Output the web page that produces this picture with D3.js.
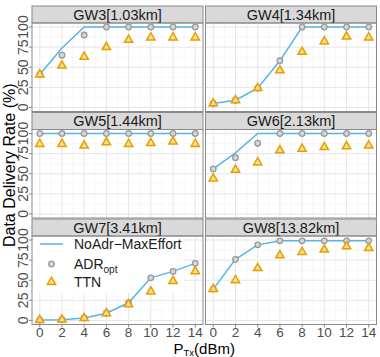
<!DOCTYPE html>
<html>
<head>
<meta charset="utf-8">
<script src="https://cdn.jsdelivr.net/npm/d3@7"></script>
<style>
  body { margin: 0; background: #fff; }
  svg { font-family: "Liberation Sans", Arial, sans-serif; }
</style>
</head>
<body>
<div id="chart"></div>
<script>
// tx power levels (x axis)
const txPower = [0, 2, 4, 6, 8, 10, 12, 14];
const gateways = ["GW3[1.03km]", "GW4[1.34km]", "GW5[1.44km]", "GW6[2.13km]", "GW7[3.41km]", "GW8[13.82km]"];

// NoAdr-MaxEffort, per gateway
const noAdr = [
    [41, 74, 100, 100, 100, 100, 100, 100],
    [5, 9, 24, 58, 100, 100, 100, 100],
    [100, 100, 100, 100, 100, 100, 100, 100],
    [56, 76, 100, 100, 100, 100, 100, 100],
    [0.5, 1, 3, 9, 22, 53, 61, 71],
    [39, 76, 94, 99, 99, 99, 99, 99]
];
// ADR_opt
const adrOpt = [
    [41, 65, 90, 100, 100, 100, 100, 100],
    [5, 9, 24, 58, 100, 100, 100, 100],
    [100, 100, 100, 100, 100, 100, 100, 100],
    [56, 70, 88, 100, 100, 100, 100, 100],
    [0.5, 1, 3, 9, 22, 53, 61, 71],
    [39, 76, 94, 99, 99, 99, 99, 99]
];
// TTN
const ttn = [
    [41, 52, 63, 75, 84, 87, 87, 87],
    [5, 9, 24, 46, 69, 82, 88, 87],
    [87, 87, 85, 89, 87, 88, 90, 87],
    [44, 55, 64, 79, 81, 83, 84, 85],
    [0.5, 1, 3, 9, 20, 36, 49, 61],
    [39, 50, 65, 81, 85, 88, 92, 90]
];
const xTicks = [0, 2, 4, 6, 8, 10, 12, 14];
const yTicks = [0, 25, 50, 75, 100];

const lineColor = "#56B4E9";
const adrColor = "#999999";
const ttnColor = "#E69F00";

const svg = d3.select("#chart").append("svg")
    .attr("width", 380)
    .attr("height", 357);

// layout of the facets
const colLeft = [32, 205.5];
const panelW = 171;
const stripTop0 = 6;
const rowStep = 106.5;
const stripH = 17;
const plotH = 88.5;

const x = d3.scaleLinear().domain([-0.7, 14.7]).range([0, panelW]);
const y = d3.scaleLinear().domain([-5, 105]).range([plotH, 0]);

const line = d3.line()
    .x((d, i) => x(txPower[i]))
    .y(d => y(d));

const tri = d3.symbol().type(d3.symbolTriangle).size(30);

gateways.forEach((name, g) => {
    const col = g % 2, row = Math.floor(g / 2);
    const left = colLeft[col];
    const top = stripTop0 + row * rowStep;

    // strip
    svg.append("rect")
        .attr("x", left).attr("y", top)
        .attr("width", panelW).attr("height", stripH)
        .attr("fill", "#d9d9d9")
        .attr("stroke", "#8a8a8a").attr("stroke-width", 1);
    svg.append("text")
        .attr("x", left + panelW / 2).attr("y", top + stripH / 2 + 5)
        .attr("text-anchor", "middle")
        .style("font-size", "14.5px")
        .style("fill", "#1a1a1a")
        .text(name);

    const p = svg.append("g").attr("transform", `translate(${left},${top + stripH})`);

    // minor grid
    p.selectAll("line.minx").data(d3.range(1, 15, 2)).enter().append("line")
        .attr("x1", d => x(d)).attr("x2", d => x(d))
        .attr("y1", 0).attr("y2", plotH)
        .attr("stroke", "#f2f2f2").attr("stroke-width", 0.6);
    p.selectAll("line.miny").data([12.5, 37.5, 62.5, 87.5]).enter().append("line")
        .attr("y1", d => y(d)).attr("y2", d => y(d))
        .attr("x1", 0).attr("x2", panelW)
        .attr("stroke", "#f2f2f2").attr("stroke-width", 0.6);
    // major grid
    p.selectAll("line.majx").data(xTicks).enter().append("line")
        .attr("x1", d => x(d)).attr("x2", d => x(d))
        .attr("y1", 0).attr("y2", plotH)
        .attr("stroke", "#e6e6e6").attr("stroke-width", 1);
    p.selectAll("line.majy").data(yTicks).enter().append("line")
        .attr("y1", d => y(d)).attr("y2", d => y(d))
        .attr("x1", 0).attr("x2", panelW)
        .attr("stroke", "#e6e6e6").attr("stroke-width", 1);

    // legend in GW7 panel (drawn before data)
    if (g === 4) {
        const lg = p.append("g").attr("transform", "translate(2,1)");
        lg.append("rect").attr("x", 0).attr("y", 0)
            .attr("width", 150).attr("height", 56).attr("fill", "#fff");
        lg.append("line").attr("x1", 6).attr("x2", 29).attr("y1", 7).attr("y2", 7)
            .attr("stroke", lineColor).attr("stroke-width", 1.5);
        lg.append("circle").attr("cx", 17.5).attr("cy", 27).attr("r", 2.8)
            .attr("fill", "#d6d6d6").attr("stroke", adrColor).attr("stroke-width", 1.3);
        lg.append("path").attr("d", tri()).attr("transform", "translate(17.5,45)")
            .attr("fill", "#f8dd90").attr("stroke", ttnColor).attr("stroke-width", 1.5);
        lg.append("text").attr("x", 40).attr("y", 12).style("font-size", "14px").style("fill", "#1a1a1a")
            .text("NoAdr\u2212MaxEffort");
        const t2 = lg.append("text").attr("x", 40).attr("y", 32).style("font-size", "14px").style("fill", "#1a1a1a");
        t2.append("tspan").text("ADR");
        t2.append("tspan").attr("dy", 4).style("font-size", "10px").text("opt");
        lg.append("text").attr("x", 40).attr("y", 50).style("font-size", "14px").style("fill", "#1a1a1a")
            .text("TTN");
    }

    // data
    p.append("path").datum(noAdr[g])
        .attr("fill", "none").attr("stroke", lineColor).attr("stroke-width", 1.5)
        .attr("d", line);
    p.selectAll("circle.adr").data(adrOpt[g]).enter().append("circle")
        .attr("cx", (d, i) => x(txPower[i])).attr("cy", d => y(d)).attr("r", 2.8)
        .attr("fill", "#d6d6d6").attr("stroke", adrColor).attr("stroke-width", 1.3);
    p.selectAll("path.ttn").data(ttn[g]).enter().append("path")
        .attr("d", tri())
        .attr("transform", (d, i) => `translate(${x(txPower[i])},${y(d)})`)
        .attr("fill", "#f8dd90").attr("stroke", ttnColor).attr("stroke-width", 1.5);

    // panel border
    p.append("rect").attr("width", panelW).attr("height", plotH)
        .attr("fill", "none").attr("stroke", "#8a8a8a").attr("stroke-width", 1);

    // y axis on left column
    if (col === 0) {
        yTicks.forEach(t => {
            p.append("line").attr("x1", -3).attr("x2", 0).attr("y1", y(t)).attr("y2", y(t))
                .attr("stroke", "#8a8a8a");
            p.append("text")
                .attr("transform", `translate(-4.5,${y(t)}) rotate(-90)`)
                .attr("text-anchor", "middle")
                .style("font-size", "14px").style("fill", "#4d4d4d")
                .text(t);
        });
    }
    // x axis on bottom row
    if (row === 2) {
        xTicks.forEach(t => {
            p.append("line").attr("x1", x(t)).attr("x2", x(t)).attr("y1", plotH).attr("y2", plotH + 3)
                .attr("stroke", "#8a8a8a");
            p.append("text")
                .attr("x", x(t)).attr("y", plotH + 12.5)
                .attr("text-anchor", "middle")
                .style("font-size", "13.5px").style("fill", "#4d4d4d")
                .text(t);
        });
    }
});

// axis titles
svg.append("text")
    .attr("transform", `translate(15,${(stripTop0 + 2 * rowStep + stripH + plotH + stripTop0) / 2}) rotate(-90)`)
    .attr("text-anchor", "middle")
    .style("font-size", "16px")
    .text("Data Delivery Rate (%)");

const xt = svg.append("text")
    .attr("x", (colLeft[0] + colLeft[1] + panelW) / 2)
    .attr("y", 353.5)
    .attr("text-anchor", "middle")
    .style("font-size", "15px");
xt.append("tspan").text("P");
xt.append("tspan").attr("dy", 2).style("font-size", "9.5px").text("Tx");
xt.append("tspan").attr("dy", -2).text("(dBm)");
</script>
</body>
</html>
